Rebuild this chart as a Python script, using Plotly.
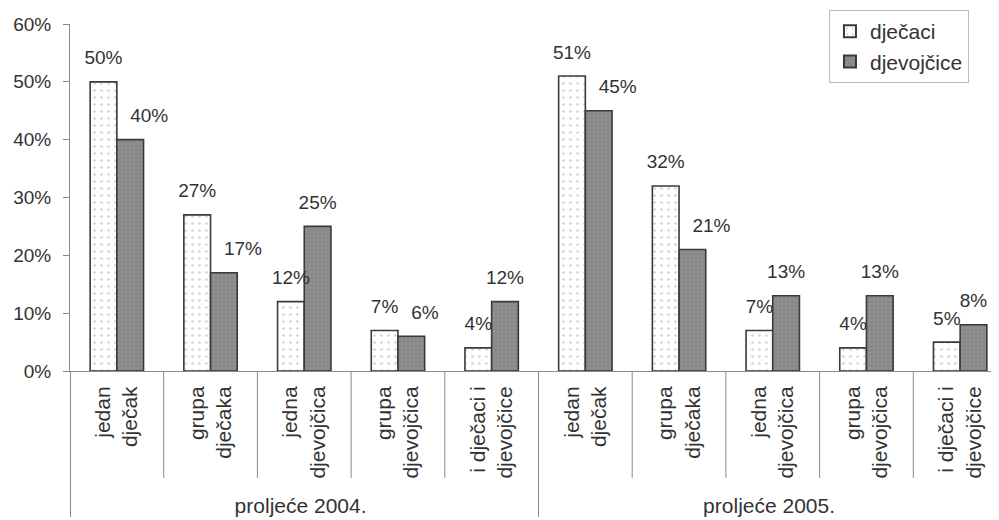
import plotly.graph_objects as go

periods = ["proljeće 2004.", "proljeće 2005."]
categories = ["jedan<br>dječak", "grupa<br>dječaka", "jedna<br>djevojčica",
              "grupa<br>djevojčica", "i dječaci i<br>djevojčice"]
series_names = ["dječaci", "djevojčice"]
boys = [50, 27, 12, 7, 4, 51, 32, 7, 4, 5]
girls = [40, 17, 25, 6, 12, 45, 21, 13, 13, 8]
y_ticks = [0, 10, 20, 30, 40, 50, 60]
y_tick_labels = [f"{v}%" for v in y_ticks]

outer = [p for p in periods for _ in categories]
inner = [c for _ in periods for c in categories]
x = [outer, inner]
n = len(inner)

FONT = "Liberation Sans, Arial, sans-serif"
TXT = "#333333"
EDGE = "#3a3a3a"
LABEL_LIFT = 2.2  # value labels float a little above their bars (data units)

fig = go.Figure()
fig.add_trace(go.Bar(
    x=x, y=boys, name=series_names[0],
    marker=dict(color="white", line=dict(color=EDGE, width=1.6),
                pattern=dict(shape=".", fgcolor="#a8a8a8", bgcolor="white",
                             size=7, solidity=0.12)),
))
fig.add_trace(go.Bar(
    x=x, y=girls, name=series_names[1],
    marker=dict(color="#8c8c8c", line=dict(color=EDGE, width=1.6),
                pattern=dict(shape=".", fgcolor="#7a7a7a", bgcolor="#8e8e8e",
                             size=4, solidity=0.3)),
))
# value-label placement as in the original (some girls' labels nudged right)
boys_label_pos = ["top center"] * n
girls_label_pos = ["top right", "top right", "top center", "top right", "top center",
                   "top right", "top right", "top center", "top center", "top center"]
for vals, pos in ((boys, boys_label_pos), (girls, girls_label_pos)):
    fig.add_trace(go.Scatter(
        x=x, y=[v + LABEL_LIFT for v in vals], mode="text",
        showlegend=False, hoverinfo="skip",
        text=[f"{v}%" for v in vals], textposition=pos,
        textfont=dict(family=FONT, size=19, color=TXT),
        cliponaxis=False,
    ))

shapes = []
for i in range(1, n):
    if i == len(categories):
        continue
    shapes.append(dict(type="line", xref="x domain", yref="paper",
                       x0=i / n, x1=i / n, y0=0, y1=-0.308,
                       line=dict(color="#8a8a8a", width=1)))

# page body has an 8px default margin, so offsets are compensated here
fig.update_layout(
    width=999, height=520,
    margin=dict(l=62, r=0, t=16, b=157, autoexpand=False),
    paper_bgcolor="white", plot_bgcolor="white",
    font=dict(family=FONT, size=19, color=TXT),
    barmode="group", bargap=0.43, bargroupgap=0,
    scattermode="group", scattergap=0.43,
    showlegend=True,
    legend=dict(x=0.81, y=1.04, xanchor="left", yanchor="top",
                bgcolor="white", bordercolor="#bbbbbb", borderwidth=1,
                font=dict(family=FONT, size=21, color=TXT),
                traceorder="normal", itemsizing="constant", itemwidth=30,
                tracegroupgap=0),
    shapes=shapes,
)
fig.update_yaxes(
    range=[0, 60], tickmode="array", tickvals=y_ticks, ticktext=y_tick_labels,
    showgrid=False, zeroline=False,
    showline=True, linecolor="#8a8a8a", linewidth=1,
    ticks="outside", ticklen=6, tickcolor="#8a8a8a",
    ticklabelstandoff=8,
    tickfont=dict(family=FONT, size=19, color=TXT),
)
fig.update_xaxes(
    type="multicategory", showgrid=False,
    showline=True, linecolor="#8a8a8a", linewidth=1,
    ticks="", tickangle=-90, ticklabelstandoff=6,
    showdividers=True, dividercolor="#8a8a8a", dividerwidth=1,
    tickfont=dict(family=FONT, size=21, color=TXT),
    automargin=False,
)

fig.write_html("out.html")
